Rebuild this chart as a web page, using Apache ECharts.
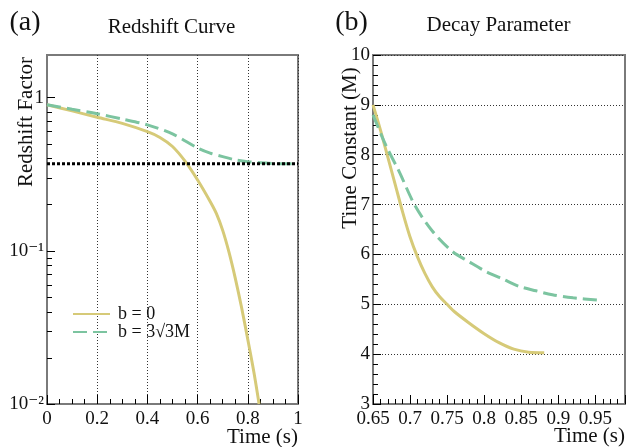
<!DOCTYPE html>
<html>
<head>
<meta charset="utf-8">
<script src="https://cdn.jsdelivr.net/npm/echarts@6/dist/echarts.min.js"></script>
<style>
html,body{margin:0;padding:0;background:#fff;}
#chart{width:631px;height:447px;}
</style>
</head>
<body>
<div id="chart"></div>
<script>
// ---- Panel (a): Redshift Curve ----
const redshiftTimeB0 = [0, 0.1, 0.2, 0.3, 0.4, 0.45, 0.5, 0.55, 0.6, 0.65, 0.675, 0.7, 0.725, 0.75, 0.775, 0.8, 0.825, 0.845];
const redshiftB0     = [0.9, 0.82, 0.745, 0.68, 0.60, 0.55, 0.48, 0.385, 0.29, 0.21, 0.175, 0.136, 0.098, 0.0664, 0.0428, 0.0264, 0.0159, 0.01];
const redshiftTimeB3 = [0, 0.1, 0.2, 0.3, 0.4, 0.5, 0.6, 0.65, 0.7, 0.75, 0.8, 0.85, 0.9, 0.95, 1];
const redshiftB3     = [0.9, 0.84, 0.785, 0.725, 0.665, 0.58, 0.47, 0.435, 0.412, 0.393, 0.382, 0.376, 0.372, 0.37, 0.37];
const plateauTime = [0, 1];
const plateauValue = [0.37, 0.37];

// ---- Panel (b): Decay Parameter ----
const decayTimeB0 = [0.65, 0.66, 0.67, 0.68, 0.69, 0.70, 0.71, 0.72, 0.73, 0.74, 0.75, 0.76, 0.78, 0.80, 0.82, 0.84, 0.86, 0.881];
const decayB0     = [9.0, 8.5, 7.95, 7.4, 6.85, 6.35, 5.95, 5.62, 5.35, 5.15, 5.0, 4.85, 4.62, 4.41, 4.23, 4.1, 4.04, 4.03];
const decayTimeB3 = [0.65, 0.667, 0.685, 0.707, 0.73, 0.757, 0.78, 0.802, 0.826, 0.847, 0.87, 0.892, 0.92, 0.955];
const decayB3     = [8.8, 8.2, 7.67, 6.97, 6.47, 6.06, 5.85, 5.66, 5.5, 5.36, 5.27, 5.19, 5.13, 5.08];

// ---- Tick labels ----
const yTicksA = [0.01, 0.1, 1];
const yTickLabelsA = ['10\u207B\u00B2', '10\u207B\u00B9', '1'];
const yMinorA = [0.02,0.03,0.04,0.05,0.06,0.07,0.08,0.09,0.2,0.3,0.4,0.5,0.6,0.7,0.8,0.9];
const xLastLabelB = 0.95;

const seriesNames = ['b = 0', 'b = 3\u221A3M'];

const FONT = "'Liberation Serif', 'DejaVu Serif', serif";
const TEXT_COLOR = '#111';
const FRAME_COLOR = '#7a7a7a';
const TICK_COLOR = 'black';
const YELLOW = '#d6ca78';
const GREEN = '#7cc4a0';

const zipPairs = (a, b) => a.map((v, i) => [v, b[i]]);

const chart = echarts.init(document.getElementById('chart'));

const mkLine = () => ({show: true, onZero: false, lineStyle: {color: FRAME_COLOR, width: 2}});
const mkLabel = extra => Object.assign({fontSize: 19, fontFamily: FONT, color: TEXT_COLOR}, extra);
const mkTick = (len, vals) => {
  const t = {show: true, inside: true, length: len, lineStyle: {color: TICK_COLOR, width: 1}};
  if (vals) t.customValues = vals;
  return t;
};
const mkMinor = n => ({show: true, splitNumber: n, length: 5, lineStyle: {color: TICK_COLOR, width: 1}});
const fmt = v => String(+(+v).toFixed(2));

const option = {
  animation: false,
  backgroundColor: '#fff',
  grid: [
    {left: 47, top: 55, width: 251, height: 349, show: true, borderColor: FRAME_COLOR, borderWidth: 2},
    {left: 373, top: 55, width: 252, height: 349, show: true, borderColor: FRAME_COLOR, borderWidth: 2}
  ],
  xAxis: [
    {
      gridIndex: 0, type: 'value', min: 0, max: 1, interval: 0.2,
      axisLine: mkLine(), axisTick: mkTick(9), minorTick: mkMinor(4),
      splitLine: {show: true, lineStyle: {type: [1, 2], color: '#333', width: 1}},
      axisLabel: mkLabel({margin: 6, formatter: fmt})
    },
    {
      gridIndex: 1, type: 'value', min: 0.65, max: 0.99, interval: 0.05,
      axisLine: mkLine(), axisTick: mkTick(9), minorTick: mkMinor(5),
      splitLine: {show: false},
      axisLabel: mkLabel({margin: 6, formatter: v => (v > xLastLabelB + 0.001 ? '' : fmt(v))})
    }
  ],
  yAxis: [
    {
      gridIndex: 0, type: 'log', logBase: 10, min: 0.01, max: 1.9,
      axisLine: mkLine(), axisTick: mkTick(8, yTicksA),
      splitLine: {show: false},
      axisLabel: mkLabel({
        margin: 3, customValues: yTicksA,
        formatter: function (v) {
          let best = 0;
          yTicksA.forEach((t, i) => { if (Math.abs(Math.log10(t) - Math.log10(v)) < Math.abs(Math.log10(yTicksA[best]) - Math.log10(v))) best = i; });
          return yTickLabelsA[best];
        }
      })
    },
    {
      gridIndex: 0, type: 'log', logBase: 10, min: 0.01, max: 1.9, position: 'left',
      axisLine: {show: false, onZero: false}, axisTick: mkTick(5, yMinorA),
      splitLine: {show: false}, axisLabel: {show: false}
    },
    {
      gridIndex: 1, type: 'value', min: 3, max: 10, interval: 1,
      axisLine: mkLine(), axisTick: mkTick(8), minorTick: mkMinor(5),
      splitLine: {show: true, lineStyle: {type: [1, 2], color: '#333', width: 1}},
      axisLabel: mkLabel({margin: 3})
    }
  ],
  legend: {
    left: 67, top: 300, orient: 'vertical',
    itemWidth: 37, itemHeight: 14, itemGap: 0,
    data: seriesNames,
    itemStyle: {opacity: 0},
    textStyle: {fontSize: 18, lineHeight: 16, fontFamily: FONT, color: TEXT_COLOR, padding: [0, 0, 0, 3]}
  },
  series: [
    {
      name: seriesNames[0], type: 'line', xAxisIndex: 0, yAxisIndex: 0,
      data: zipPairs(redshiftTimeB0, redshiftB0), symbol: 'none', smooth: 0.3,
      lineStyle: {color: YELLOW, width: 3}, itemStyle: {color: YELLOW}
    },
    {
      name: seriesNames[1], type: 'line', xAxisIndex: 0, yAxisIndex: 0,
      data: zipPairs(redshiftTimeB3, redshiftB3), symbol: 'none', smooth: 0.3,
      lineStyle: {color: GREEN, width: 3, type: [14, 6]}, itemStyle: {color: GREEN}
    },
    {
      name: 'plateau', type: 'line', xAxisIndex: 0, yAxisIndex: 0,
      data: zipPairs(plateauTime, plateauValue), symbol: 'none',
      lineStyle: {color: '#000', width: 3, type: [3, 2]}, z: 4, silent: true
    },
    {
      name: seriesNames[0], type: 'line', xAxisIndex: 1, yAxisIndex: 2,
      data: zipPairs(decayTimeB0, decayB0), symbol: 'none', smooth: 0.3,
      lineStyle: {color: YELLOW, width: 3}, itemStyle: {color: YELLOW}
    },
    {
      name: seriesNames[1], type: 'line', xAxisIndex: 1, yAxisIndex: 2,
      data: zipPairs(decayTimeB3, decayB3), symbol: 'none', smooth: 0.3,
      lineStyle: {color: GREEN, width: 3, type: [14, 6]}, itemStyle: {color: GREEN}
    }
  ],
  graphic: [
    {type: 'text', x: 25, y: 23, style: {text: '(a)', fontSize: 28, fontFamily: FONT, fill: TEXT_COLOR, align: 'center', verticalAlign: 'middle'}},
    {type: 'text', x: 171.5, y: 27, style: {text: 'Redshift Curve', fontSize: 21, fontFamily: FONT, fill: TEXT_COLOR, align: 'center', verticalAlign: 'middle'}},
    {type: 'text', x: 351.5, y: 23, style: {text: '(b)', fontSize: 28, fontFamily: FONT, fill: TEXT_COLOR, align: 'center', verticalAlign: 'middle'}},
    {type: 'text', x: 498.5, y: 25, style: {text: 'Decay Parameter', fontSize: 21, fontFamily: FONT, fill: TEXT_COLOR, align: 'center', verticalAlign: 'middle'}},
    {type: 'text', x: 26, y: 122, rotation: Math.PI / 2, style: {text: 'Redshift Factor', fontSize: 21, fontFamily: FONT, fill: TEXT_COLOR, align: 'center', verticalAlign: 'middle'}},
    {type: 'text', x: 350, y: 148, rotation: Math.PI / 2, style: {text: 'Time Constant (M)', fontSize: 21, fontFamily: FONT, fill: TEXT_COLOR, align: 'center', verticalAlign: 'middle'}},
    {type: 'text', x: 298, y: 437, style: {text: 'Time (s)', fontSize: 21, fontFamily: FONT, fill: TEXT_COLOR, align: 'right', verticalAlign: 'middle'}},
    {type: 'text', x: 625, y: 436, style: {text: 'Time (s)', fontSize: 21, fontFamily: FONT, fill: TEXT_COLOR, align: 'right', verticalAlign: 'middle'}}
  ]
};

chart.setOption(option);
</script>
</body>
</html>
